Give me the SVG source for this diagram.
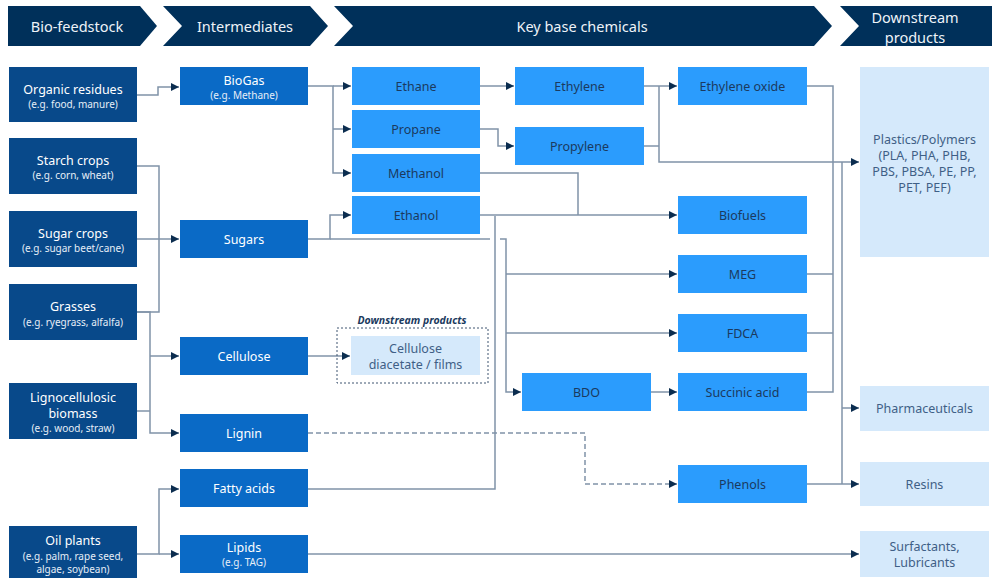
<svg xmlns="http://www.w3.org/2000/svg" width="997" height="578" viewBox="0 0 997 578">
<style>
text{font-family:"Noto Sans","Open Sans",sans-serif;text-anchor:middle;dominant-baseline:central}
.hdr{fill:#00305A}
.ht{fill:#EEF3F8;font-size:14.5px}
.feed{fill:#08498A}
.inter{fill:#0A6AC6}
.chem{fill:#2B9CFD}
.prod{fill:#D5E9FB}
.wt{fill:#FFFFFF;font-size:12.5px}
.ws{fill:#E6EEF7;font-size:10px}
.ct{fill:#1B3A5E;font-size:12.5px}
.pt{fill:#3F5F86;font-size:12.5px}
.ln{fill:none;stroke:#8093A8;stroke-width:1.5}
.ar{marker-end:url(#arr)}
.dash{stroke-dasharray:5 3}
</style>
<defs>
<marker id="arr" markerUnits="userSpaceOnUse" markerWidth="10" markerHeight="10" refX="9" refY="5" orient="auto">
<path d="M1,1 L9,5 L1,9 Z" fill="#0B2D4F"/>
</marker>
</defs>
<rect width="997" height="578" fill="#FFFFFF"/>
<g id="header">
<polygon class="hdr" points="8,6 140,6 157,26 140,46 8,46"/>
<polygon class="hdr" points="163,6 310,6 328,26 310,46 163,46 182,26"/>
<polygon class="hdr" points="334,6 814,6 832,26 814,46 334,46 353,26"/>
<polygon class="hdr" points="840,6 992,6 992,46 840,46 859,26"/>
<text class="ht" x="77" y="26">Bio-feedstock</text>
<text class="ht" x="245" y="26">Intermediates</text>
<text class="ht" x="582" y="26">Key base chemicals</text>
<text class="ht" x="915" y="17">Downstream</text>
<text class="ht" x="915" y="37">products</text>
</g>
<g id="connectors">
<path class="ln ar" d="M137,95 H158 V87 H179"/>
<path class="ln" d="M137,166 H159 V239"/>
<path class="ln" d="M137,312 H159 V239"/>
<path class="ln ar" d="M137,239 H179"/>
<path class="ln ar" d="M137,312 H150 V433 H179"/>
<path class="ln ar" d="M150,356 H179"/>
<path class="ln" d="M137,411 H150"/>
<path class="ln ar" d="M137,554 H159 V489 H179"/>
<path class="ln ar" d="M159,554 H179"/>
<path class="ln ar" d="M308,86 H333 V173 H351"/>
<path class="ln ar" d="M333,86 H351"/>
<path class="ln ar" d="M333,129 H351"/>
<path class="ln ar" d="M308,239 H330 V215 H351"/>
<path class="ln" d="M330,239 H490"/>
<path class="ln ar" d="M500,239 H506 V392 H521"/>
<path class="ln ar" d="M506,274 H677"/>
<path class="ln ar" d="M506,333 H677"/>
<path class="ln ar" d="M480,215 H677"/>
<path class="ln" d="M480,173 H578 V215"/>
<path class="ln" d="M308,489 H495 V216"/>
<path class="ln ar" d="M480,86 H514"/>
<path class="ln ar" d="M480,129 H498 V146 H514"/>
<path class="ln ar" d="M644,86 H677"/>
<path class="ln ar" d="M659,86 V162 H859"/>
<path class="ln" d="M644,146 H659"/>
<path class="ln" d="M807,86 H833 V392 H807"/>
<path class="ln" d="M807,274 H833"/>
<path class="ln" d="M807,333 H833"/>
<path class="ln" d="M842,162 V484"/>
<path class="ln ar" d="M842,408 H859"/>
<path class="ln ar" d="M807,484 H859"/>
<path class="ln ar" d="M651,392 H677"/>
<path class="ln ar dash" d="M308,433 H585 V484 H677"/>
<path class="ln ar" d="M308,554 H859"/>
<path class="ln ar" d="M308,356 H350"/>
</g>
<g id="organic-residues"><rect class="feed" x="9" y="67" width="128" height="55"/><text class="wt" x="73" y="89">Organic residues</text><text class="ws" x="73" y="104">(e.g. food, manure)</text></g>
<g id="starch-crops"><rect class="feed" x="9" y="138" width="128" height="56"/><text class="wt" x="73" y="160">Starch crops</text><text class="ws" x="73" y="175">(e.g. corn, wheat)</text></g>
<g id="sugar-crops"><rect class="feed" x="9" y="211" width="128" height="56"/><text class="wt" x="73" y="233">Sugar crops</text><text class="ws" x="73" y="248">(e.g. sugar beet/cane)</text></g>
<g id="grasses"><rect class="feed" x="9" y="284" width="128" height="56"/><text class="wt" x="73" y="306">Grasses</text><text class="ws" x="73" y="322">(e.g. ryegrass, alfalfa)</text></g>
<g id="lignocellulosic"><rect class="feed" x="9" y="383" width="128" height="56"/><text class="wt" x="73" y="397">Lignocellulosic</text><text class="wt" x="73" y="413">biomass</text><text class="ws" x="73" y="428">(e.g. wood, straw)</text></g>
<g id="oil-plants"><rect class="feed" x="9" y="526" width="128" height="52"/><text class="wt" x="73" y="540">Oil plants</text><text class="ws" x="73" y="556">(e.g. palm, rape seed,</text><text class="ws" x="73" y="569">algae, soybean)</text></g>
<g id="biogas"><rect class="inter" x="180" y="67" width="128" height="38"/><text class="wt" x="244" y="80">BioGas</text><text class="ws" x="244" y="95">(e.g. Methane)</text></g>
<g id="sugars"><rect class="inter" x="180" y="220" width="128" height="38"/><text class="wt" x="244" y="239">Sugars</text></g>
<g id="cellulose"><rect class="inter" x="180" y="337" width="128" height="38"/><text class="wt" x="244" y="356">Cellulose</text></g>
<g id="lignin"><rect class="inter" x="180" y="414" width="128" height="38"/><text class="wt" x="244" y="433">Lignin</text></g>
<g id="fatty-acids"><rect class="inter" x="180" y="469" width="128" height="38"/><text class="wt" x="244" y="488">Fatty acids</text></g>
<g id="lipids"><rect class="inter" x="180" y="535" width="128" height="38"/><text class="wt" x="244" y="547">Lipids</text><text class="ws" x="244" y="562">(e.g. TAG)</text></g>
<g id="ethane"><rect class="chem" x="352" y="67" width="128" height="38"/><text class="ct" x="416" y="86">Ethane</text></g>
<g id="propane"><rect class="chem" x="352" y="110" width="128" height="38"/><text class="ct" x="416" y="129">Propane</text></g>
<g id="methanol"><rect class="chem" x="352" y="154" width="128" height="38"/><text class="ct" x="416" y="173">Methanol</text></g>
<g id="ethanol"><rect class="chem" x="352" y="196" width="128" height="38"/><text class="ct" x="416" y="215">Ethanol</text></g>
<g id="ethylene"><rect class="chem" x="515" y="67" width="129" height="38"/><text class="ct" x="579.5" y="86">Ethylene</text></g>
<g id="propylene"><rect class="chem" x="515" y="127" width="129" height="38"/><text class="ct" x="579.5" y="146">Propylene</text></g>
<g id="bdo"><rect class="chem" x="522" y="373" width="129" height="38"/><text class="ct" x="586.5" y="392">BDO</text></g>
<g id="ethylene-oxide"><rect class="chem" x="678" y="67" width="129" height="38"/><text class="ct" x="742.5" y="86">Ethylene oxide</text></g>
<g id="biofuels"><rect class="chem" x="678" y="196" width="129" height="38"/><text class="ct" x="742.5" y="215">Biofuels</text></g>
<g id="meg"><rect class="chem" x="678" y="255" width="129" height="38"/><text class="ct" x="742.5" y="274">MEG</text></g>
<g id="fdca"><rect class="chem" x="678" y="314" width="129" height="38"/><text class="ct" x="742.5" y="333">FDCA</text></g>
<g id="succinic-acid"><rect class="chem" x="678" y="373" width="129" height="38"/><text class="ct" x="742.5" y="392">Succinic acid</text></g>
<g id="phenols"><rect class="chem" x="678" y="465" width="129" height="38"/><text class="ct" x="742.5" y="484">Phenols</text></g>
<g id="cellulose-diacetate">
<rect x="337" y="328" width="151" height="55" fill="none" stroke="#3F5570" stroke-width="1" stroke-dasharray="2 2"/>
<text x="412" y="320" fill="#1B3A5E" font-size="10.5" font-weight="bold" font-style="italic">Downstream products</text>
<rect class="prod" x="351" y="336" width="129" height="39"/>
<text class="pt" x="415.5" y="348">Cellulose</text>
<text class="pt" x="415.5" y="364">diacetate / films</text>
</g>
<g id="plastics"><rect class="prod" x="860" y="67" width="129" height="190"/><text class="pt" x="924.5" y="139">Plastics/Polymers</text><text class="pt" x="924.5" y="155">(PLA, PHA, PHB,</text><text class="pt" x="924.5" y="171">PBS, PBSA, PE, PP,</text><text class="pt" x="924.5" y="187">PET, PEF)</text></g>
<g id="pharmaceuticals"><rect class="prod" x="860" y="386" width="129" height="45"/><text class="pt" x="924.5" y="408.5">Pharmaceuticals</text></g>
<g id="resins"><rect class="prod" x="860" y="462" width="129" height="44"/><text class="pt" x="924.5" y="484">Resins</text></g>
<g id="surfactants"><rect class="prod" x="860" y="531" width="129" height="46"/><text class="pt" x="924.5" y="546">Surfactants,</text><text class="pt" x="924.5" y="562">Lubricants</text></g>
</svg>
